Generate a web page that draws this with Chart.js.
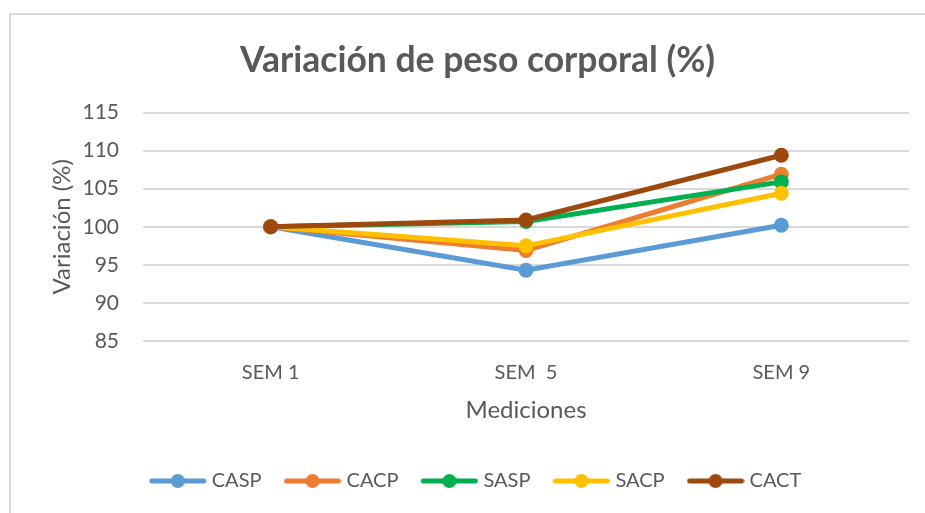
<!DOCTYPE html>
<html>
<head>
<meta charset="utf-8">
<script src="https://cdn.jsdelivr.net/npm/chart.js@4"></script>
<style>
  html, body { margin: 0; padding: 0; background: #fff; }
  #wrap { width: 925px; height: 513px; }
</style>
</head>
<body>
<div id="wrap"><canvas id="pesoChart" width="925" height="513"></canvas></div>
<script>
// Datos del gráfico
const semanas = ['SEM 1', 'SEM  5', 'SEM 9'];
const grupos = ['CASP', 'CACP', 'SASP', 'SACP', 'CACT'];
const casp = [100, 94.3, 100.2];
const cacp = [100, 96.9, 106.9];
const sasp = [100, 100.7, 105.9];
const sacp = [100, 97.5, 104.4];
const cact = [100, 100.9, 109.4];
const ticksY = [85, 90, 95, 100, 105, 110, 115];

const colores = ['#5B9BD5', '#ED7D31', '#00B050', '#FFC000', '#9E480E'];
const series = [casp, cacp, sasp, sacp, cact];
const fuente = 'Lato, "Open Sans", sans-serif';
const gris = '#595959';

// muestra de leyenda: línea con punto
function muestra(color) {
    const c = document.createElement('canvas');
    c.width = 58; c.height = 16;
    const g = c.getContext('2d');
    g.strokeStyle = color;
    g.lineWidth = 5;
    g.lineCap = 'round';
    g.beginPath(); g.moveTo(3, 8); g.lineTo(55, 8); g.stroke();
    g.fillStyle = color;
    g.beginPath(); g.arc(29, 8, 7, 0, Math.PI * 2); g.fill();
    return c;
}

// marco del área del gráfico
const marco = {
    id: 'marco',
    beforeDraw(chart) {
        const ctx = chart.ctx;
        ctx.save();
        ctx.strokeStyle = '#d9d9d9';
        ctx.lineWidth = 2;
        ctx.strokeRect(10, 14, 940, 520);
        ctx.restore();
    }
};

const ctx = document.getElementById('pesoChart').getContext('2d');
const pesoChart = new Chart(ctx, {
    type: 'line',
    data: {
        labels: semanas,
        datasets: grupos.map((g, i) => ({
            label: g,
            data: series[i],
            borderColor: colores[i],
            backgroundColor: colores[i],
            borderWidth: 5,
            pointRadius: 7.5,
            pointHoverRadius: 7.5,
            pointBorderWidth: 0,
            tension: 0,
            fill: false,
            order: grupos.length - i
        }))
    },
    options: {
        responsive: false,
        animation: false,
        layout: { padding: { left: 46, right: 16, top: 0, bottom: 12 } },
        plugins: {
            title: {
                display: true,
                text: 'Variación de peso corporal (%)',
                color: gris,
                font: { family: fuente, size: 35.5, weight: 'bold' },
                padding: { top: 39, bottom: 31 }
            },
            legend: {
                position: 'bottom',
                labels: {
                    usePointStyle: true,
                    pointStyleWidth: 48,
                    padding: 27,
                    color: gris,
                    font: { family: fuente, size: 20 },
                    generateLabels(chart) {
                        return chart.data.datasets.map((d, i) => ({
                            text: d.label,
                            pointStyle: muestra(colores[i]),
                            fontColor: gris,
                            lineWidth: 0,
                            strokeStyle: 'transparent',
                            fillStyle: colores[i],
                            hidden: false,
                            datasetIndex: i
                        }));
                    }
                }
            },
            tooltip: { enabled: false }
        },
        scales: {
            x: {
                offset: true,
                grid: { display: false, drawTicks: false },
                border: { display: false },
                ticks: { color: gris, font: { family: fuente, size: 20 }, padding: 20 },
                title: {
                    display: true,
                    text: 'Mediciones',
                    color: gris,
                    font: { family: fuente, size: 24 },
                    padding: { top: 12, bottom: 19.6 }
                },
                afterFit(scale) { scale.height = 103; }
            },
            y: {
                min: 85,
                max: 115,
                afterBuildTicks(scale) { scale.ticks = ticksY.map(v => ({ value: v })); },
                grid: { color: '#d9d9d9', lineWidth: 2, drawTicks: false },
                border: { display: false },
                ticks: { color: gris, font: { family: fuente, size: 21 }, padding: 24 },
                title: {
                    display: true,
                    text: 'Variación (%)',
                    color: gris,
                    font: { family: fuente, size: 24 },
                    padding: { top: 1.6, bottom: 0 }
                },
                afterFit(scale) { scale.width = 97; }
            }
        }
    },
    plugins: [marco]
});
</script>
</body>
</html>
